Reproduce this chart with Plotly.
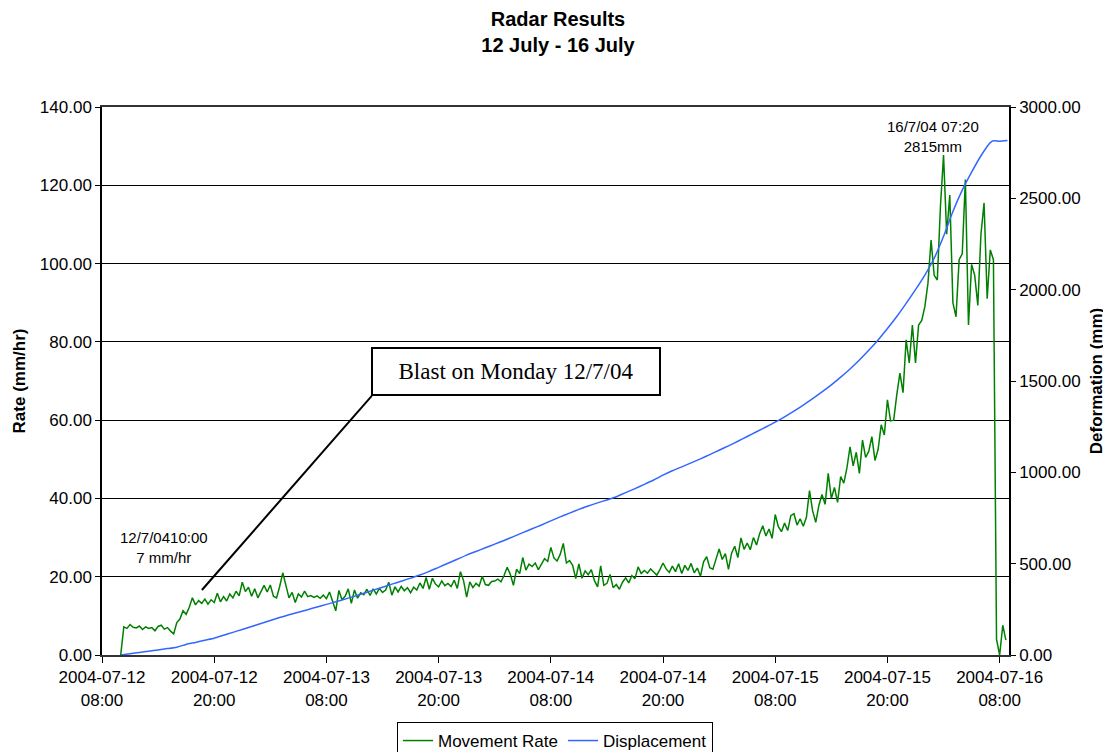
import pandas as pd
import plotly.graph_objects as go

# ---------------- data ----------------
rate_start = "2004-07-12 10:00"   # movement rate sampled every 20 minutes
rate_step = "20min"
movement_rate = [
    0.0, 7.2, 6.8,   7.8, 7.1, 6.9,   7.4, 6.5, 7.2,   6.8, 7.0, 6.2,
    7.3, 7.6, 6.6,   7.0, 6.1, 5.4,   8.3, 9.2, 11.3,  10.4, 12.2, 14.6,
    12.8, 13.9, 13.2, 14.3, 13.0, 14.1, 13.4, 15.8, 13.6, 14.9, 13.8, 15.6,
    14.6, 16.3, 15.1, 18.6, 16.2, 17.3, 15.0, 16.9, 14.6, 16.4, 17.8, 16.1,
    17.9, 15.0, 14.6, 17.5, 21.0, 17.8, 14.6, 16.0, 13.4, 15.6, 14.8, 16.3,
    14.9, 15.2, 14.7, 15.1, 14.5, 15.3, 14.4, 16.1, 13.8, 11.3, 16.5, 14.1,
    15.0, 16.9, 13.2, 16.6, 14.5, 15.9, 15.4, 16.8, 15.2, 16.9, 15.6, 17.0,
    16.0, 16.6, 18.6, 15.3, 17.4, 16.1, 17.5, 16.4, 17.2, 15.9, 17.3, 16.6,
    18.4, 17.0, 19.8, 16.8, 19.6, 18.1, 17.4, 18.9, 17.7, 18.3, 17.5, 19.1,
    17.0, 21.3, 19.0, 14.8, 18.7, 17.2, 18.3, 17.6, 20.1, 18.0, 17.8, 18.8,
    18.9, 19.4, 18.7, 20.3, 22.4, 20.6, 17.8, 21.9, 20.8, 24.9, 21.7, 23.2,
    22.6, 23.5, 21.8, 23.3, 24.6, 23.9, 27.5, 24.8, 24.0, 25.7, 28.5, 23.5,
    24.1, 22.9, 19.5, 23.3, 19.6, 21.5, 20.5, 21.8, 19.0, 17.4, 22.8, 17.8,
    18.3, 20.6, 17.2, 18.0, 16.8, 18.6, 19.7, 18.4, 20.3, 19.5, 22.5, 20.8,
    21.6, 20.9, 22.0, 21.2, 20.4, 21.8, 23.5, 22.0, 21.1, 22.7, 21.3, 23.3,
    20.8, 22.9, 21.6, 23.4, 21.0, 22.2, 20.1, 23.8, 25.1, 22.3, 21.9, 24.5,
    27.1, 24.4, 25.9, 21.9, 26.0, 27.8, 24.9, 29.9, 27.0, 28.6, 26.9, 30.0,
    28.1, 31.0, 33.0, 30.4, 32.2, 29.8, 35.9, 32.8, 31.5, 33.7, 31.8, 35.6,
    36.1, 33.2, 34.8, 32.9, 35.2, 42.0, 36.8, 33.9, 38.2, 41.0, 38.5, 46.4,
    40.0, 42.8, 39.0, 45.6, 43.9, 47.8, 53.2, 48.3, 51.8, 46.4, 54.9, 50.5,
    52.0, 55.8, 49.7, 52.5, 58.8, 56.2, 65.2, 59.8, 60.0, 66.5, 72.0, 67.0,
    80.5, 74.6, 84.3, 74.6, 84.3, 85.5, 89.0, 95.0, 106.0, 97.0, 95.8, 114.5,
    127.7, 107.5, 117.5, 90.0, 86.4, 101.0, 102.5, 121.5, 84.3, 99.8, 97.0, 89.3,
    107.5, 115.5, 91.0, 103.5, 101.0, 4.0, 0.0, 7.6, 3.8,
]

disp_start = "2004-07-12 10:00"   # hourly displacement
disp_hourly = [
    0, 7, 14, 21, 28, 35, 43, 58, 69, 81, 92, 108, 124, 140, 156, 172, 189, 205,
    220, 234, 248, 263, 277, 291, 306, 322, 338, 355, 371, 388, 404, 421, 438,
    458, 480, 502, 524, 547, 567, 587, 607, 627, 648, 670, 691, 712, 734, 756,
    777, 797, 816, 833, 849, 866, 889, 911, 934, 958, 985, 1009, 1030, 1052,
    1074, 1097, 1121, 1145, 1170, 1196, 1222, 1248, 1275, 1304, 1335, 1368,
    1403, 1440, 1479, 1521, 1566, 1615, 1668, 1725, 1787, 1853, 1925, 2000,
    2080, 2172, 2292, 2428, 2545, 2643, 2733, 2805,
]
disp_tail_times = ["2004-07-16 07:20", "2004-07-16 08:00", "2004-07-16 08:50"]
disp_tail = [2815, 2812, 2816]

x_range = ["2004-07-12 08:00", "2004-07-16 09:00"]
x_tickvals = ["2004-07-12 08:00", "2004-07-12 20:00", "2004-07-13 08:00",
              "2004-07-13 20:00", "2004-07-14 08:00", "2004-07-14 20:00",
              "2004-07-15 08:00", "2004-07-15 20:00", "2004-07-16 08:00"]
x_ticktext = ["2004-07-12<br>08:00", "2004-07-12<br>20:00", "2004-07-13<br>08:00",
              "2004-07-13<br>20:00", "2004-07-14<br>08:00", "2004-07-14<br>20:00",
              "2004-07-15<br>08:00", "2004-07-15<br>20:00", "2004-07-16<br>08:00"]

# ---------------- figure ----------------
rate_times = pd.date_range(rate_start, periods=len(movement_rate), freq=rate_step)
disp_times = list(pd.date_range(disp_start, periods=len(disp_hourly), freq="h")) + \
    list(pd.to_datetime(disp_tail_times))
disp_values = disp_hourly + disp_tail

FONT = "Liberation Sans, Arial, sans-serif"
W, H = 1103, 744   # page body has an 8px margin

fig = go.Figure()
fig.add_trace(go.Scatter(x=rate_times, y=movement_rate, name="Movement Rate",
                         mode="lines", line=dict(color="#008000", width=1.5),
                         yaxis="y"))
fig.add_trace(go.Scatter(x=disp_times, y=disp_values, name="Displacement",
                         mode="lines", line=dict(color="#3366FF", width=1.5,
                                                 shape="spline", smoothing=0.6),
                         yaxis="y2"))

fig.update_layout(
    width=W, height=H,
    margin=dict(l=94, r=102, t=99, b=97, autoexpand=False),
    paper_bgcolor="white", plot_bgcolor="white",
    font=dict(family=FONT, size=17, color="black"),
    title=dict(text="<b>Radar Results<br>12 July - 16 July</b>",
               x=(558 - 8) / W, xanchor="center", y=1 - 17.5 / H, yanchor="middle",
               xref="container", yref="container",
               font=dict(size=20, family=FONT, color="black")),
    xaxis=dict(type="date", range=x_range, tickvals=x_tickvals, ticktext=x_ticktext,
               showgrid=False, showline=True, linecolor="#333333", linewidth=2,
               mirror=True, ticks="outside", ticklen=6, tickcolor="black",
               tickfont=dict(size=17), zeroline=False, automargin=False),
    yaxis=dict(range=[0, 140], dtick=20, tickformat=".2f",
               showgrid=True, gridcolor="black", gridwidth=1,
               showline=True, linecolor="black", linewidth=1.5,
               ticks="outside", ticklen=5, tickcolor="black", zeroline=False,
               tickfont=dict(size=17), automargin=False,
               title=dict(text="<b>Rate (mm/hr)</b>", font=dict(size=17), standoff=10)),
    yaxis2=dict(range=[0, 3000], dtick=500, tickformat=".2f", overlaying="y",
                side="right", showgrid=False, showline=True, linecolor="black",
                linewidth=1.5, ticks="outside", ticklen=5, tickcolor="black",
                zeroline=False, tickfont=dict(size=17), automargin=False,
                title=dict(text="<b>Deformation (mm)</b>", font=dict(size=17), standoff=10)),
    legend=dict(orientation="h", x=(555 - 8) / W, xanchor="center",
                xref="container", yref="container",
                y=1 - (722 - 8) / H, yanchor="top",
                bordercolor="black", borderwidth=1, bgcolor="white",
                font=dict(size=17), itemwidth=30, tracegroupgap=0),
    showlegend=True,
)

# annotations
fig.add_annotation(x="2004-07-12 14:41", y=27.4, xref="x", yref="y",
                   text="12/7/0410:00<br>7 mm/hr", showarrow=False,
                   xanchor="center", yanchor="middle",
                   font=dict(size=15, family=FONT, color="black"))
fig.add_annotation(x="2004-07-16 00:54", y=132.5, xref="x", yref="y",
                   text="16/7/04 07:20<br>2815mm", showarrow=False,
                   xanchor="center", yanchor="middle",
                   font=dict(size=15, family=FONT, color="black"))
fig.add_shape(type="line", xref="x", yref="y",
              x0="2004-07-12 18:41", y0=16.6, x1="2004-07-13 12:51", y1=66.2,
              line=dict(color="black", width=2))
fig.add_annotation(x="2004-07-14 04:14", y=72.4, xref="x", yref="y",
                   text="Blast on Monday 12/7/04", showarrow=False,
                   xanchor="center", yanchor="middle",
                   width=284, height=43, borderpad=1, borderwidth=2,
                   bordercolor="black", bgcolor="white",
                   font=dict(size=23, family="Liberation Serif, Times New Roman, serif",
                             color="black"))

fig.write_html("out.html")
